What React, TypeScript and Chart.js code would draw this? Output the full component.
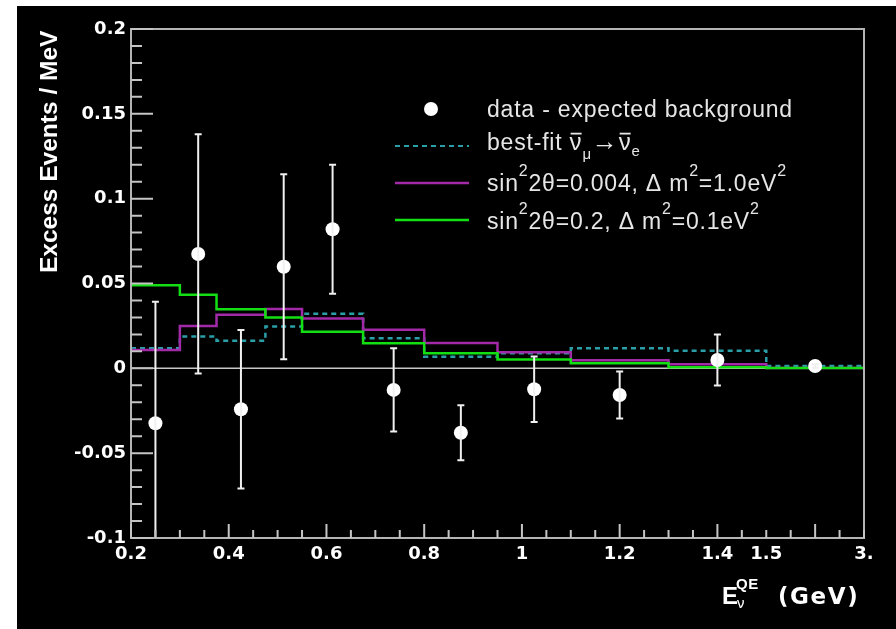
import React, { useEffect, useRef } from 'react';
import { Chart, registerables } from 'chart.js';

Chart.register(...registerables);

// ---------------- data ----------------
// Bin edges in GeV (the last bin 1.5–3.0 GeV is drawn compressed on the axis)
const binEdges = [0.2, 0.3, 0.375, 0.475, 0.55, 0.675, 0.8, 0.95, 1.1, 1.3, 1.5, 3.0];

// data - expected background (Excess Events / MeV) and its errors
const excessValues = [-0.0324, 0.0674, -0.0241, 0.0599, 0.082, -0.0127, -0.038, -0.0123, -0.0157, 0.0049, 0.0014];
const excessErrors = [0.0717, 0.0705, 0.0467, 0.0545, 0.038, 0.0245, 0.0162, 0.0193, 0.0138, 0.015, 0.001];

// best-fit anti-numu -> anti-nue
const bestFitValues = [0.0118, 0.0187, 0.0163, 0.0246, 0.0322, 0.0177, 0.0069, 0.0089, 0.0118, 0.0104, 0.0014];
// sin^2 2theta = 0.004, dm^2 = 1.0 eV^2
const purpleValues = [0.0108, 0.025, 0.0316, 0.035, 0.0293, 0.0228, 0.015, 0.0095, 0.0048, 0.0024, 0.0002];
// sin^2 2theta = 0.2, dm^2 = 0.1 eV^2
const greenValues = [0.049, 0.0433, 0.0348, 0.0299, 0.0216, 0.0148, 0.0089, 0.0052, 0.003, 0.0007, 0.0002];

// axis ticks
const xTickValues = [0.2, 0.4, 0.6, 0.8, 1.0, 1.2, 1.4, 1.5, 3.0];
const xTickLabels = ['0.2', '0.4', '0.6', '0.8', '1', '1.2', '1.4', '1.5', '3.'];
const yTickValues = [-0.1, -0.05, 0, 0.05, 0.1, 0.15, 0.2];
const yTickLabels = ['-0.1', '-0.05', '0', '0.05', '0.1', '0.15', '0.2'];

const yTitle = 'Excess Events / MeV';

type Seg = { t: string; size?: number; dy?: number; bar?: boolean; bold?: boolean };

const xTitleSegs: Seg[][] = [
  [{ t: 'E', bold: true }],
  [{ t: 'QE', bold: true, size: 15, dy: -15 }],
  [{ t: 'ν', size: 15, dy: 4 }],
  [{ t: '(GeV)', bold: true }],
];

const legendRows: Seg[][] = [
  [{ t: 'data - expected background' }],
  [{ t: 'best-fit ' }, { t: 'ν', bar: true, size: 24 }, { t: 'μ', size: 15, dy: 9 }, { t: '→', size: 26 }, { t: 'ν', bar: true, size: 24 }, { t: 'e', size: 15, dy: 6 }],
  [{ t: 'sin' }, { t: '2', size: 16, dy: -15 }, { t: '2θ=0.004, Δ m' }, { t: '2', size: 16, dy: -15 }, { t: '=1.0eV' }, { t: '2', size: 16, dy: -15 }],
  [{ t: 'sin' }, { t: '2', size: 16, dy: -15 }, { t: '2θ=0.2, Δ m' }, { t: '2', size: 16, dy: -15 }, { t: '=0.1eV' }, { t: '2', size: 16, dy: -15 }],
];

// ---------------- styling ----------------
const GREEN = '#12e012';
const PURPLE = '#a22aa8';
const TEAL = '#2a9fa8';
const FRAME = '#b4b4b4';

// axis compression: energies above 1.5 GeV are squeezed so 3.0 GeV sits at 1.7
const BREAK = 1.5;
const COMPRESS = 0.2 / 1.5;
const toAxis = (e: number) => (e <= BREAK ? e : BREAK + (e - BREAK) * COMPRESS);

const stepPoints = (vals: number[]) => {
  const pts = vals.map((v, i) => ({ x: toAxis(binEdges[i]), y: v }));
  pts.push({ x: toAxis(binEdges[vals.length]), y: vals[vals.length - 1] });
  return pts;
};
const centers = excessValues.map((_, i) => (toAxis(binEdges[i]) + toAxis(binEdges[i + 1])) / 2);
const dataPoints = excessValues.map((v, i) => ({ x: centers[i], y: v }));

function drawSegs(ctx: CanvasRenderingContext2D, x0: number, base: number, segs: Seg[], family: string, defSize: number, spacing: number) {
  let x = x0;
  for (const s of segs) {
    const size = s.size ?? defSize;
    const dy = s.dy ?? 0;
    ctx.font = `${s.bold ? 'bold ' : ''}${size}px ${family}`;
    (ctx as any).letterSpacing = spacing + 'px';
    ctx.fillText(s.t, x, base + dy);
    const w = ctx.measureText(s.t).width;
    if (s.bar) ctx.fillRect(x + 1, base + dy - size * 0.72, w - spacing - 1, 1.8);
    x += w;
  }
  (ctx as any).letterSpacing = '0px';
}

const decorPlugin = {
  id: 'decor',
  beforeDraw(chart: any) {
    const { ctx, width, height } = chart;
    ctx.save();
    ctx.fillStyle = '#ffffff';
    ctx.fillRect(0, 0, width, height);
    ctx.fillStyle = '#000000';
    ctx.fillRect(17, 6, width - 17, height - 6);
    ctx.restore();
  },
  beforeDatasetsDraw(chart: any) {
    const { ctx, chartArea, scales } = chart;
    const y0 = scales.y.getPixelForValue(0);
    ctx.save();
    ctx.strokeStyle = '#c8c8c8';
    ctx.lineWidth = 1.5;
    ctx.beginPath();
    ctx.moveTo(chartArea.left, y0);
    ctx.lineTo(chartArea.right, y0);
    ctx.stroke();
    ctx.restore();
  },
  afterDatasetsDraw(chart: any) {
    const { ctx, chartArea, scales } = chart;
    ctx.save();
    ctx.beginPath();
    ctx.rect(chartArea.left, chartArea.top, chartArea.right - chartArea.left, chartArea.bottom - chartArea.top);
    ctx.clip();
    ctx.strokeStyle = '#f0f0f0';
    ctx.lineWidth = 2;
    excessValues.forEach((v, i) => {
      const px = scales.x.getPixelForValue(centers[i]);
      const top = scales.y.getPixelForValue(v + excessErrors[i]);
      const bot = scales.y.getPixelForValue(v - excessErrors[i]);
      ctx.beginPath();
      ctx.moveTo(px, top);
      ctx.lineTo(px, bot);
      ctx.moveTo(px - 3.5, top);
      ctx.lineTo(px + 3.5, top);
      ctx.moveTo(px - 3.5, bot);
      ctx.lineTo(px + 3.5, bot);
      ctx.stroke();
    });
    ctx.restore();
  },
  afterDraw(chart: any) {
    const { ctx, chartArea, scales } = chart;
    const { left, right, top, bottom } = chartArea;
    ctx.save();
    // frame
    ctx.strokeStyle = FRAME;
    ctx.lineWidth = 2;
    ctx.strokeRect(left, top, right - left, bottom - top);
    // inward tick marks
    ctx.strokeStyle = '#c4c4c4';
    ctx.lineWidth = 2;
    ctx.beginPath();
    for (let i = -10; i <= 20; i++) {
      const py = scales.y.getPixelForValue(i / 100);
      const len = i % 5 === 0 ? 22 : 11;
      ctx.moveTo(left, py);
      ctx.lineTo(left + len, py);
    }
    for (let i = 0; i <= 30; i++) {
      const px = scales.x.getPixelForValue(0.2 + i * 0.05);
      const len = i % 4 === 0 ? 14 : 8;
      ctx.moveTo(px, bottom);
      ctx.lineTo(px, bottom - len);
    }
    ctx.stroke();

    // y title
    ctx.fillStyle = '#ffffff';
    ctx.save();
    ctx.translate(57, 273);
    ctx.rotate(-Math.PI / 2);
    ctx.font = 'bold 24.5px "Liberation Sans"';
    ctx.textAlign = 'left';
    ctx.textBaseline = 'alphabetic';
    ctx.fillText(yTitle, 0, 0);
    ctx.restore();

    // x title
    ctx.textAlign = 'left';
    ctx.textBaseline = 'alphabetic';
    drawSegs(ctx, 722, 604, xTitleSegs[0], '"Liberation Sans"', 24, 0);
    drawSegs(ctx, 736, 604, xTitleSegs[1], '"Liberation Sans"', 24, 0.5);
    drawSegs(ctx, 737, 604, xTitleSegs[2], '"Liberation Sans"', 24, 0);
    drawSegs(ctx, 778, 604, xTitleSegs[3], '"DejaVu Sans"', 23, 1.6);

    // legend
    const lx0 = 395, lx1 = 469, tx = 487;
    const rowsY = [109, 146, 183, 220];
    const bases = [117, 150, 191, 229];
    ctx.fillStyle = '#ffffff';
    ctx.beginPath();
    ctx.arc((lx0 + lx1) / 2 - 1, rowsY[0], 7, 0, Math.PI * 2);
    ctx.fill();
    const styles = [
      { c: TEAL, w: 2, d: [5, 4] },
      { c: PURPLE, w: 2.5, d: [] },
      { c: GREEN, w: 2.5, d: [] },
    ];
    styles.forEach((s, k) => {
      ctx.strokeStyle = s.c;
      ctx.lineWidth = s.w;
      ctx.setLineDash(s.d);
      ctx.beginPath();
      ctx.moveTo(lx0, rowsY[k + 1]);
      ctx.lineTo(lx1, rowsY[k + 1]);
      ctx.stroke();
    });
    ctx.setLineDash([]);
    ctx.fillStyle = '#e6e6e6';
    legendRows.forEach((row, k) => drawSegs(ctx, tx, bases[k], row, '"Liberation Sans"', 23, 0.8));
    ctx.restore();
  },
};

const near = (a: number, b: number) => Math.abs(a - b) < 1e-6;

export default function App() {
  const ref = useRef<HTMLCanvasElement>(null);
  useEffect(() => {
    document.body.style.margin = '0';
    const canvas = ref.current!;
    const histo = (vals: number[], color: string, dash: number[], width: number) => ({
      data: stepPoints(vals),
      showLine: true,
      stepped: true,
      borderColor: color,
      backgroundColor: color,
      borderWidth: width,
      borderDash: dash,
      pointRadius: 0,
      fill: false,
    });
    const chart = new Chart(canvas, {
      type: 'scatter',
      data: {
        datasets: [
          {
            data: dataPoints,
            pointRadius: 7,
            pointBackgroundColor: '#ffffff',
            pointBorderWidth: 0,
            showLine: false,
          } as any,
          histo(greenValues, GREEN, [], 2.5),
          histo(purpleValues, PURPLE, [], 2.5),
          histo(bestFitValues, TEAL, [5, 4], 2.5),
        ],
      },
      options: {
        animation: false,
        responsive: false,
        maintainAspectRatio: false,
        events: [],
        layout: { padding: { left: 0, top: 29, right: 32, bottom: 0 } },
        plugins: { legend: { display: false }, tooltip: { enabled: false } },
        scales: {
          x: {
            type: 'linear',
            min: 0.2,
            max: 1.7,
            grid: { display: false, drawTicks: false },
            border: { display: false },
            afterBuildTicks: (scale: any) => {
              scale.ticks = Array.from({ length: 31 }, (_, i) => ({ value: Math.round((0.2 + i * 0.05) * 1000) / 1000 }));
            },
            afterFit: (scale: any) => {
              scale.height = 91;
            },
            ticks: {
              autoSkip: false,
              maxRotation: 0,
              padding: 6,
              color: '#ffffff',
              font: { family: '"DejaVu Sans"', weight: 'bold', size: 18 },
              callback: (value: any) => {
                const k = xTickValues.findIndex((t) => near(toAxis(t), Number(value)));
                return k >= 0 ? xTickLabels[k] : '';
              },
            },
          },
          y: {
            type: 'linear',
            min: -0.1,
            max: 0.2,
            grid: { display: false, drawTicks: false },
            border: { display: false },
            afterBuildTicks: (scale: any) => {
              scale.ticks = Array.from({ length: 31 }, (_, i) => ({ value: (i - 10) / 100 }));
            },
            afterFit: (scale: any) => {
              scale.width = 131;
            },
            ticks: {
              autoSkip: false,
              padding: 5,
              color: '#ffffff',
              font: { family: '"DejaVu Sans"', weight: 'bold', size: 18 },
              callback: (value: any) => {
                const k = yTickValues.findIndex((t) => near(t, Number(value)));
                return k >= 0 ? yTickLabels[k] : '';
              },
            },
          },
        },
      } as any,
      plugins: [decorPlugin as any],
    });
    return () => chart.destroy();
  }, []);
  return (
    <div style={{ width: 896, height: 629 }}>
      <canvas ref={ref} width={896} height={629} style={{ display: 'block', width: 896, height: 629 }} />
    </div>
  );
}
